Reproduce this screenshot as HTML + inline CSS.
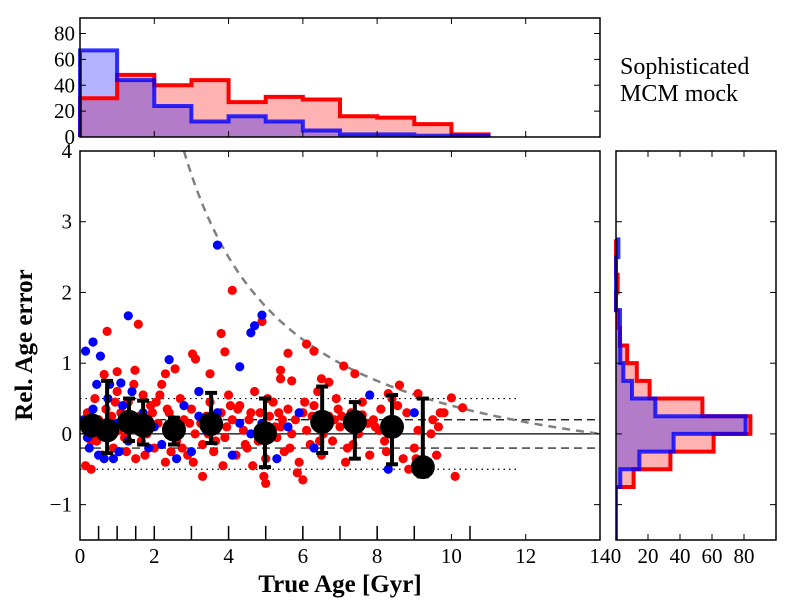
<!DOCTYPE html>
<html><head><meta charset="utf-8"><style>
body{margin:0;background:#fff}
svg text{font-family:"Liberation Serif",serif}
</style></head><body>
<svg id="chart" width="800" height="600" xmlns="http://www.w3.org/2000/svg">
<text x="620" y="74" font-size="24">Sophisticated</text>
<text x="620" y="101" font-size="24">MCM mock</text>
<text x="340" y="592" font-size="25" font-weight="bold" text-anchor="middle">True Age [Gyr]</text>
<text transform="translate(32,345) rotate(-90)" font-size="25" font-weight="bold" text-anchor="middle">Rel. Age error</text>
</svg>
<script>
// ---- data ----
const topBins=[0,1,2,3,4,5,6,7,8,9,10];
const topRed=[30,48,40,44,27,31,29,16,15,10,2];
const topBlue=[67,44,24,12,16,12,5,2,2,1,1];
const rightBins=[-0.75,-0.5,-0.25,0,0.25,0.5,0.75,1.0,1.25,1.5,1.75,2.0,2.25,2.5];
const rightRed=[11,34,61,84,54,21,13,7,2.5,1,0,1,0,0];
const rightBlue=[2.7,14.6,36,81,24.6,10,4.6,2.7,2.5,2.5,0,0,0,1.5];
const meanAge=[0.32,0.73,1.32,1.7,2.53,3.53,4.98,6.52,7.4,8.4,9.23];
const meanErr=[0.12,0.05,0.17,0.12,0.06,0.14,0.01,0.17,0.17,0.1,-0.47];
const errHi=[0.2,0.75,0.5,0.47,0.23,0.58,0.5,0.67,0.45,0.55,0.5];
const errLo=[0.05,-0.27,-0.1,-0.15,-0.15,-0.13,-0.47,-0.27,-0.35,-0.43,-0.6];
const binEdges=[0.5,1,1.5,2,3,4,5,6,7,8,9,10.5];
const redAge=[0.2,0.3,0.4,0.5,0.6,0.7,0.8,0.9,1.0,1.1,1.2,1.3,1.4,1.5,1.6,1.7,1.8,1.9,2.0,2.1,2.2,2.3,2.4,2.5,2.6,2.7,2.8,2.9,3.0,3.1,3.2,3.3,3.4,3.5,3.6,3.7,3.8,3.9,4.0,4.1,4.2,4.3,4.4,4.5,4.6,4.7,4.8,4.9,5.0,5.1,5.2,5.3,5.4,5.5,5.6,5.7,5.8,5.9,6.0,6.1,6.2,6.3,6.4,6.5,6.6,6.7,6.8,6.9,7.0,7.2,7.3,7.5,7.6,7.8,7.9,8.1,8.2,8.4,8.5,8.7,8.8,9.0,9.1,9.3,9.5,9.6,9.8,0.15,0.45,0.85,1.25,1.65,2.05,2.45,3.05,3.45,3.85,4.25,4.65,5.05,5.45,5.85,6.25,6.85,7.15,7.75,8.25,8.85,9.45,10.1,0.3,1.45,3.3,4.95,6.0,
4.1,1.57,0.73,4.9,3.8,3.9,3.03,3.11,3.5,2.56,2.3,1.48,1.0,0.65,5.6,6.1,6.3,5.4,5.4,5.7,6.5,6.7,7.1,7.4,8.3,8.6,9.1,10.0,10.3,7.6,9.7,5.0,
0.55,1.05,1.75,2.35,2.75,3.25,3.65,4.05,4.45,4.85,5.25,5.65,6.05,6.45,6.95,7.35,7.95,8.55,9.05,9.65,1.95,2.95,3.95,5.35,6.55,7.05,8.05,0.95,2.15,4.55];
const redErr=[0.3,-0.1,0.5,0.2,-0.3,0.35,0.1,-0.2,0.6,0.3,-0.05,0.45,0.1,-0.35,0.25,0.55,0.0,0.4,-0.2,0.15,0.7,-0.4,0.3,0.05,-0.1,0.5,0.2,-0.3,0.35,0.0,0.6,-0.15,0.25,0.45,-0.25,0.1,0.3,-0.05,0.55,0.2,-0.3,0.4,0.05,-0.2,0.3,0.6,-0.1,0.15,-0.35,0.25,0.45,-0.05,0.1,-0.25,0.35,0.0,0.2,-0.4,0.3,0.05,-0.15,0.4,0.6,-0.3,0.15,0.25,-0.1,0.5,0.1,-0.2,0.3,0.0,0.45,-0.3,0.2,0.35,-0.1,0.5,0.15,-0.35,0.3,-0.2,0.05,-0.45,0.2,-0.3,0.3,-0.45,-0.1,0.25,-0.25,-0.1,0.45,-0.25,-0.4,0.0,-0.45,0.35,-0.45,0.5,0.2,-0.55,0.25,0.2,-0.4,0.15,-0.25,-0.5,0.0,-0.6,-0.5,0.7,-0.6,-0.6,-0.65,
2.03,1.55,1.45,1.59,1.42,1.16,1.13,1.06,0.85,0.92,0.85,0.9,0.88,0.84,1.14,1.27,1.17,0.9,0.78,0.75,0.78,0.73,0.96,0.85,0.57,0.69,0.57,0.51,0.37,0.27,0.3,-0.7,
0.1,0.05,-0.3,0.35,-0.2,0.15,-0.1,0.4,-0.15,0.3,0.1,-0.2,0.45,-0.1,0.35,-0.15,0.1,0.4,-0.35,0.1,0.3,0.15,0.1,0.3,0.0,0.25,0.05,0.45,0.55,0.2];
const blueAge=[0.1,0.25,0.35,0.5,0.6,0.75,0.9,1.0,1.15,1.3,1.4,1.55,1.7,1.85,2.0,2.2,2.5,2.8,3.0,3.4,3.7,4.1,4.3,4.6,5.3,5.6,5.9,6.3,7.4,7.8,8.3,9.0,0.2,0.45,0.65,1.05,3.2,2.6,0.3,4.9,
3.7,4.9,1.3,0.35,0.15,0.55,2.4,4.6,4.7,4.3,0.8,1.1,3.2];
const blueErr=[0.2,-0.2,0.35,-0.3,0.05,0.5,-0.35,0.15,0.4,-0.1,0.6,0.2,0.3,-0.2,0.1,-0.15,0.2,0.4,-0.25,0.05,0.3,-0.3,0.15,0.0,-0.35,0.1,0.3,-0.2,0.05,0.55,-0.5,0.3,-0.05,0.7,-0.35,-0.25,0.25,-0.35,0.0,0.15,
2.67,1.68,1.67,1.3,1.17,1.1,1.05,1.43,1.53,0.95,0.7,0.72,0.6];
const xTicks=[0,2,4,6,8,10,12,14];
const yTicks=[-1,0,1,2,3,4];
const topTicks=[0,20,40,60,80];
const rightTicks=[0,20,40,60,80];
// ---- scales ----
const X0=80,X1=600,Y0=151,Y1=540;
const sx=v=>X0+(v-0)/14*(X1-X0);
const sy=v=>Y0+(4-v)/5.5*(Y1-Y0);
const TY0=18,TY1=137;
const ty=v=>TY1-v/92*(TY1-TY0);
const RX0=616,RX1=776;
const rx=v=>RX0+v/100*(RX1-RX0);
const svg=document.getElementById('chart');
const NS='http://www.w3.org/2000/svg';
function mk(tag,attrs,parent){const e=document.createElementNS(NS,tag);for(const k in attrs)e.setAttribute(k,attrs[k]);(parent||svg).appendChild(e);return e;}
function txt(x,y,s,anchor,size){const t=mk('text',{x:x,y:y,'font-size':size||20,'text-anchor':anchor});t.textContent=s;return t;}

// ---- top histogram ----
function topPath(vals){let d='M'+sx(topBins[0])+','+ty(0);vals.forEach((v,i)=>{d+=' L'+sx(topBins[i])+','+ty(v)+' L'+sx(topBins[i]+1)+','+ty(v);});d+=' L'+sx(topBins[vals.length-1]+1)+','+ty(0);return d;}
let e;
e=mk('path',{d:topPath(topRed)+'Z',fill:'rgba(255,0,0,0.3)',stroke:'none'});

e=mk('path',{d:topPath(topBlue)+'Z',fill:'rgba(0,0,255,0.3)',stroke:'none'});

e=mk('path',{d:topPath(topRed),fill:'none',stroke:'#f00','stroke-width':4});

e=mk('path',{d:topPath(topBlue),fill:'none',stroke:'#00f','stroke-width':4,'stroke-opacity':0.8});

e=mk('rect',{x:X0,y:TY0,width:X1-X0,height:TY1-TY0,fill:'none',stroke:'#000','stroke-width':1.5});

topTicks.forEach(v=>{mk('line',{x1:X0,x2:X0+6,y1:ty(v),y2:ty(v),stroke:'#000'});mk('line',{x1:X1,x2:X1-6,y1:ty(v),y2:ty(v),stroke:'#000'});
 e=txt(X0-5,ty(v)+7,String(v),'end',21);});
xTicks.forEach(v=>{mk('line',{x1:sx(v),x2:sx(v),y1:TY0,y2:TY0+6,stroke:'#000'});mk('line',{x1:sx(v),x2:sx(v),y1:TY1,y2:TY1-6,stroke:'#000'});});

// ---- right histogram ----
function rightPath(vals){let d='M'+rx(0)+','+sy(rightBins[0]);vals.forEach((v,i)=>{d+=' L'+rx(v)+','+sy(rightBins[i])+' L'+rx(v)+','+sy(rightBins[i]+0.25);});d+=' L'+rx(0)+','+sy(rightBins[vals.length-1]+0.25);return d;}
e=mk('path',{d:rightPath(rightRed)+'Z',fill:'rgba(255,0,0,0.3)',stroke:'none'});

e=mk('path',{d:rightPath(rightBlue)+'Z',fill:'rgba(0,0,255,0.3)',stroke:'none'});

e=mk('path',{d:rightPath(rightRed),fill:'none',stroke:'#f00','stroke-width':4});

e=mk('path',{d:rightPath(rightBlue),fill:'none',stroke:'#00f','stroke-width':4,'stroke-opacity':0.8});

mk('line',{x1:rx(0.5),x2:rx(0.5),y1:sy(-0.75),y2:Y1,stroke:'#00f','stroke-width':2});
e=mk('rect',{x:RX0,y:Y0,width:RX1-RX0,height:Y1-Y0,fill:'none',stroke:'#000','stroke-width':1.5});

rightTicks.forEach(v=>{mk('line',{x1:rx(v),x2:rx(v),y1:Y0,y2:Y0+6,stroke:'#000'});mk('line',{x1:rx(v),x2:rx(v),y1:Y1,y2:Y1-6,stroke:'#000'});
 e=txt(rx(v),Y1+23,String(v),'middle',21);});
yTicks.forEach(v=>{mk('line',{x1:RX0,x2:RX0+6,y1:sy(v),y2:sy(v),stroke:'#000'});mk('line',{x1:RX1,x2:RX1-6,y1:sy(v),y2:sy(v),stroke:'#000'});});

// ---- main panel ----
const clip=mk('clipPath',{id:'mainclip'});mk('rect',{x:X0,y:Y0,width:X1-X0,height:Y1-Y0},clip);
const g=mk('g',{'clip-path':'url(#mainclip)'});
e=mk('line',{x1:X0,x2:X1,y1:sy(0),y2:sy(0),stroke:'#000','stroke-width':1.2},g);

[0.2,-0.2].forEach(v=>{e=mk('line',{x1:X0,x2:X1,y1:sy(v),y2:sy(v),stroke:'#000','stroke-width':1.2,'stroke-dasharray':'8,5'},g);
 });
[0.5,-0.5].forEach(v=>{e=mk('line',{x1:X0,x2:sx(11.8),y1:sy(v),y2:sy(v),stroke:'#000','stroke-width':1.2,'stroke-dasharray':'1.5,4'},g);
 });
let cd='';for(let a=2.6;a<=14.001;a+=0.05){cd+=(cd?' L':'M')+sx(a)+','+sy(14/a-1);}
e=mk('path',{d:cd,fill:'none',stroke:'#808080','stroke-width':2.5,'stroke-dasharray':'8,6'},g);

redAge.forEach((a,i)=>{e=mk('circle',{cx:sx(a),cy:sy(redErr[i]),r:4.6,fill:'#f00'},g);
 });
blueAge.forEach((a,i)=>{e=mk('circle',{cx:sx(a),cy:sy(blueErr[i]),r:4.6,fill:'#00f'},g);
 });
binEdges.forEach(v=>{e=mk('line',{x1:sx(v),x2:sx(v),y1:sy(-1.3),y2:Y1,stroke:'#000','stroke-width':1.5},g);
 });
meanAge.forEach((a,i)=>{const x=sx(a);
 mk('line',{x1:x,x2:x,y1:sy(errHi[i]),y2:sy(errLo[i]),stroke:'#000','stroke-width':4},g);
 mk('line',{x1:x-6,x2:x+6,y1:sy(errHi[i]),y2:sy(errHi[i]),stroke:'#000','stroke-width':4},g);
 mk('line',{x1:x-6,x2:x+6,y1:sy(errLo[i]),y2:sy(errLo[i]),stroke:'#000','stroke-width':4},g);
 e=mk('circle',{cx:x,cy:sy(meanErr[i]),r:12,fill:'#000'},g);
 });
e=mk('rect',{x:X0,y:Y0,width:X1-X0,height:Y1-Y0,fill:'none',stroke:'#000','stroke-width':1.5});

xTicks.forEach(v=>{mk('line',{x1:sx(v),x2:sx(v),y1:Y0,y2:Y0+6,stroke:'#000'});mk('line',{x1:sx(v),x2:sx(v),y1:Y1,y2:Y1-6,stroke:'#000'});
 e=txt(sx(v),Y1+23,String(v),'middle',21);});
yTicks.forEach(v=>{mk('line',{x1:X0,x2:X0+6,y1:sy(v),y2:sy(v),stroke:'#000'});mk('line',{x1:X1,x2:X1-6,y1:sy(v),y2:sy(v),stroke:'#000'});
 e=txt(X0-8,sy(v)+7,v<0?'\u2212'+Math.abs(v):String(v),'end',21);});
</script>
</body></html>
